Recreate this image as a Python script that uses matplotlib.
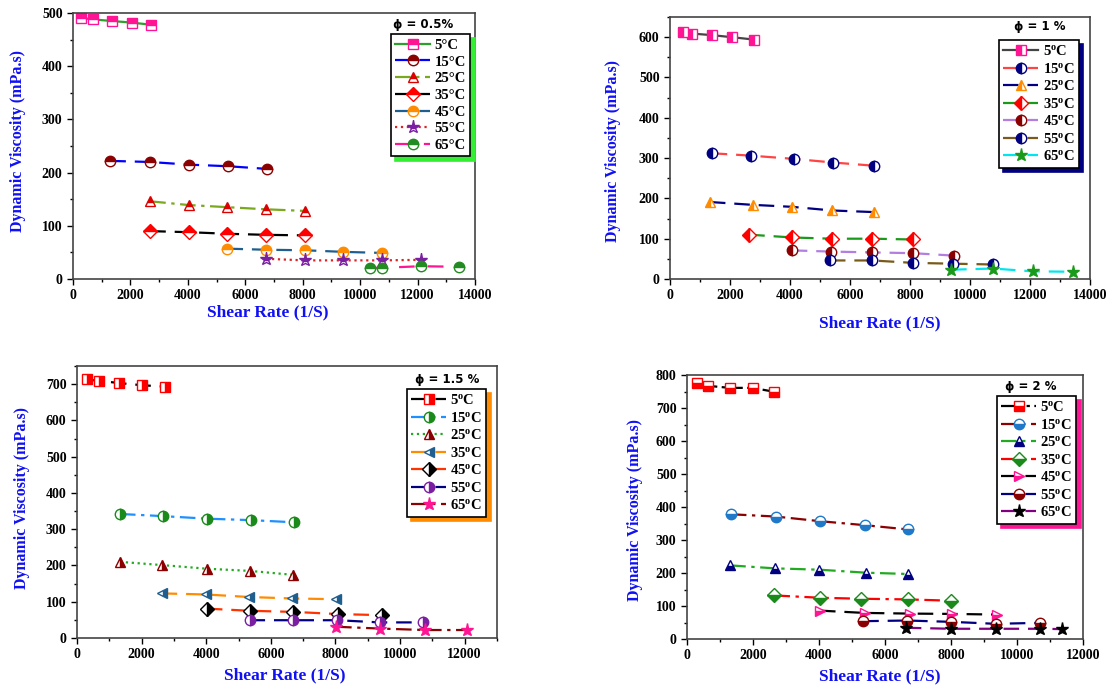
import numpy as np
import matplotlib
matplotlib.use("Agg")
import matplotlib.pyplot as plt

plt.rcParams['font.family'] = ['Liberation Serif', 'DejaVu Serif']
plt.rcParams['font.weight'] = 'bold'
plt.rcParams['mathtext.fontset'] = 'custom'
plt.rcParams['mathtext.rm'] = 'Liberation Serif:bold'
plt.rcParams['mathtext.default'] = 'regular'

# ---------------- data: phi = 0.5 % ----------------
p1_labels = ["5°C", "15°C", "25°C", "35°C", "45°C", "55°C", "65°C"]
p1_x = [[270, 690, 1350, 2040, 2710],
        [1300, 2670, 4030, 5390, 6750],
        [2690, 4035, 5380, 6725, 8070],
        [2690, 4035, 5380, 6725, 8070],
        [5380, 6725, 8070, 9415, 10760],
        [6725, 8070, 9415, 10760, 12105],
        [10350, 10760, 12105, 13450]]
p1_y = [[491, 488, 485, 482, 478],
        [222, 220, 215, 212, 207],
        [146, 139, 135, 131, 128],
        [90, 88, 85, 83, 82],
        [57, 55, 54, 51, 49],
        [38, 35, 35, 35, 36],
        [21, 21, 24, 23]]

# ---------------- data: phi = 1 % ----------------
p2_labels = ["5$^{o}$C", "15$^{o}$C", "25$^{o}$C", "35$^{o}$C", "45$^{o}$C", "55$^{o}$C", "65$^{o}$C"]
p2_x = [[420, 720, 1400, 2050, 2800],
        [1390, 2700, 4130, 5440, 6800],
        [1330, 2750, 4080, 5400, 6800],
        [2640, 4080, 5400, 6740, 8110],
        [4060, 5370, 6740, 8110, 9470],
        [5330, 6740, 8110, 9420, 10780],
        [9370, 10760, 12090, 13440]]
p2_y = [[614, 609, 605, 600, 594],
        [312, 306, 298, 289, 281],
        [191, 184, 179, 170, 166],
        [110, 103, 100, 100, 98],
        [71, 68, 66, 64, 58],
        [46, 46, 40, 38, 36],
        [23, 26, 19, 18]]

# ---------------- data: phi = 1.5 % ----------------
p3_labels = p2_labels
p3_x = [[300, 690, 1310, 2010, 2730],
        [1330, 2670, 4030, 5390, 6730],
        [1330, 2640, 4030, 5360, 6700],
        [2620, 3990, 5330, 6670, 8010],
        [4020, 5360, 6700, 8070, 9430],
        [5340, 6700, 8060, 9380, 10700],
        [8020, 9380, 10770, 12080]]
p3_y = [[713, 709, 703, 697, 693],
        [342, 336, 329, 325, 319],
        [210, 201, 191, 185, 174],
        [123, 120, 113, 109, 107],
        [81, 75, 72, 66, 63],
        [49, 49, 49, 43, 43],
        [31, 26, 22, 22]]

# ---------------- data: phi = 2 % ----------------
p4_labels = p2_labels
p4_x = [[290, 650, 1300, 1990, 2650],
        [1330, 2700, 4030, 5380, 6690],
        [1310, 2680, 4010, 5410, 6690],
        [2650, 4030, 5270, 6690, 8000],
        [4030, 5380, 6760, 8030, 9400],
        [5340, 6660, 8000, 9360, 10700],
        [6630, 8000, 9360, 10700, 11350]]
p4_y = [[776, 767, 761, 761, 749],
        [378, 371, 357, 345, 332],
        [223, 214, 210, 201, 197],
        [132, 125, 122, 120, 116],
        [86, 79, 77, 76, 74],
        [54, 56, 52, 46, 49],
        [34, 31, 31, 31, 30]]

# ---------------- styles ----------------
dd = (0, (7, 2.5, 1.5, 2.5))
ddd = (0, (6, 2, 1.5, 2, 1.5, 2))
p1_style = [('#2ca02c', '-', 's', '#ff1493', 'top'),
            ('#0000ff', (0, (7, 4)), 'o', '#8b0000', 'top'),
            ('#7aa81e', dd, '^', '#dd0000', 'top'),
            ('#000000', (0, (7, 4)), 'D', '#ff0000', 'top'),
            ('#1f5f8f', (0, (7, 4)), 'o', '#ff8c00', 'top'),
            ('#dd2222', ':', '*', '#7b1fa2', 'top'),
            ('#ff1493', (0, (7, 6)), 'o', '#228b22', 'top')]
p2_style = [('#444444', '-', 's', '#ff1493', 'left'),
            ('#ff4444', (0, (7, 4)), 'o', '#000080', 'left'),
            ('#000080', (0, (7, 4)), '^', '#ff8c00', 'left'),
            ('#1a9a1a', (0, (7, 4)), 'D', '#ff0000', 'left'),
            ('#b27fe0', (0, (7, 4)), 'o', '#8b0000', 'left'),
            ('#7a5a1a', (0, (7, 4)), 'o', '#000080', 'left'),
            ('#00e5ee', (0, (7, 4)), '*', '#1a9a1a', 'full')]
p3_style = [('#000000', (0, (7, 4)), 's', '#ff0000', 'right'),
            ('#1e90ff', dd, 'o', '#1a8a1a', 'right'),
            ('#22aa22', ':', '^', '#8b0000', 'right'),
            ('#ff8c00', (0, (7, 4)), '<', '#1f5f8f', 'right'),
            ('#ff3300', (0, (7, 4)), 'D', '#000000', 'right'),
            ('#000080', (0, (7, 4)), 'o', '#7b1fa2', 'right'),
            ('#8b0000', dd, '*', '#ff1493', 'full')]
p4_style = [('#000000', ddd, 's', '#ff0000', 'bottom'),
            ('#8b0000', dd, 'o', '#1f78c8', 'bottom'),
            ('#22aa22', dd, '^', '#000080', 'bottom'),
            ('#ff0000', dd, 'D', '#1a8a1a', 'bottom'),
            ('#000000', (0, (7, 4)), '>', '#ff1493', 'bottom'),
            ('#000080', (0, (7, 4)), 'o', '#8b0000', 'bottom'),
            ('#800080', (0, (7, 4)), '*', '#000000', 'full')]

fig = plt.figure(figsize=(11.12, 6.89), dpi=100)
W, H = 1112.0, 689.0


def add_axes(l, r, t, b):
    return fig.add_axes([l / W, 1 - b / H, (r - l) / W, (b - t) / H])


def panel(ax, xs, ys, labels, styles, xlim, ylim, xmaj, ymaj, title, shadow_col,
          leg_pos, title_pos, ylab_pos, xlab_pos):
    for x, y, lab, (lc, ls, mk, mc, fs) in zip(xs, ys, labels, styles):
        ms = 9.5 if mk == '*' else 7.5
        ax.plot(x, y, color=lc, ls=ls, lw=1.6, marker=mk, ms=ms, mfc=mc,
                mec=mc, mfcalt='white', fillstyle=fs, mew=1.0, label=lab)
    ax.set_xlim(*xlim)
    ax.set_ylim(*ylim)
    ax.set_xticks(np.arange(0, xlim[1] + 1, xmaj))
    ax.set_xticks(np.arange(0, xlim[1] + 1, xmaj / 2), minor=True)
    ax.set_yticks(np.arange(0, ylim[1] + 1, ymaj))
    ax.set_yticks(np.arange(0, ylim[1] + 1, ymaj / 2), minor=True)
    ax.tick_params(which='both', direction='out', labelsize=10, width=1)
    ax.tick_params(which='major', length=4)
    ax.tick_params(which='minor', length=2.5)
    for sp in ax.spines.values():
        sp.set_color('#444444')
        sp.set_linewidth(1.2)
    ax.set_ylabel("Dynamic Viscosity (mPa.s)", color='#1010f5', fontsize=11.5,
                  fontweight='bold')
    ax.set_xlabel("Shear Rate (1/S)", color='#1010f5', fontsize=12.5,
                  fontweight='bold')
    ax.yaxis.set_label_coords(*ylab_pos)
    ax.xaxis.set_label_coords(*xlab_pos)
    leg = ax.legend(loc='upper left', bbox_to_anchor=leg_pos, borderaxespad=0,
                    fancybox=False, edgecolor='black', framealpha=1,
                    fontsize=10.5, labelspacing=0.24, handlelength=2.4,
                    handletextpad=0.3, borderpad=0.3,
                    shadow={'color': shadow_col, 'alpha': 1, 'ox': 3, 'oy': -3})
    leg.get_frame().set_linewidth(1.2)
    ax.text(title_pos[0], title_pos[1], title, transform=ax.transAxes,
            ha='center', va='center', fontsize=8.5, fontweight='bold',
            family=['DejaVu Sans'])


ax1 = add_axes(73, 475, 13, 279)
panel(ax1, p1_x, p1_y, p1_labels, p1_style, (0, 14000), (0, 500), 2000, 100,
      "ϕ = 0.5%", '#33ee33', (0.791, 0.92), (0.871, 0.955),
      (-0.117, 0.52), (0.485, -0.094))

ax2 = add_axes(670, 1090, 17, 279)
panel(ax2, p2_x, p2_y, p2_labels, p2_style, (0, 14000), (0, 650), 2000, 100,
      "ϕ = 1 %", '#000080', (0.783, 0.912), (0.881, 0.962),
      (-0.117, 0.49), (0.5, -0.137))

ax3 = add_axes(77, 497, 366, 638)
panel(ax3, p3_x, p3_y, p3_labels, p3_style, (0, 13000), (0, 750), 2000, 100,
      "ϕ = 1.5 %", '#ff8c00', (0.785, 0.915), (0.881, 0.949),
      (-0.112, 0.515), (0.495, -0.108))

ax4 = add_axes(687, 1083, 375, 639)
panel(ax4, p4_x, p4_y, p4_labels, p4_style, (0, 12000), (0, 800), 2000, 100,
      "ϕ = 2 %", '#ff1493', (0.782, 0.92), (0.869, 0.955),
      (-0.111, 0.49), (0.487, -0.113))

fig.savefig("out.png", dpi=100)
